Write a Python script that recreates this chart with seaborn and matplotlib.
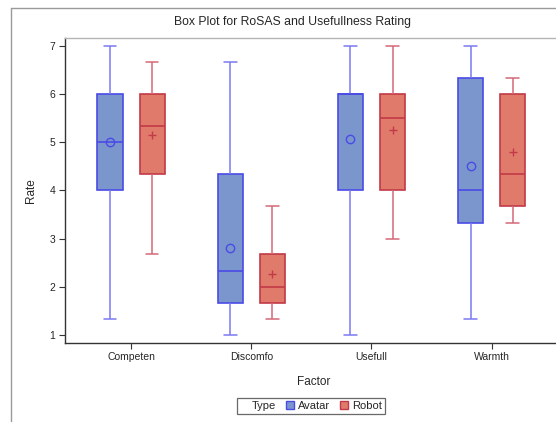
import numpy as np
import pandas as pd
import seaborn as sns
import matplotlib
matplotlib.use("Agg")
import matplotlib.pyplot as plt
from matplotlib.lines import Line2D
from matplotlib.patches import Patch

# Five-number summaries and means per factor and type
factors = ["Competen", "Discomfo", "Usefull", "Warmth"]
types = ["Avatar", "Robot"]

avatar_min = [1.33, 1.00, 1.00, 1.33]
avatar_q1 = [4.00, 1.67, 4.00, 3.33]
avatar_med = [5.00, 2.33, 6.00, 4.00]
avatar_q3 = [6.00, 4.33, 6.00, 6.33]
avatar_max = [7.00, 6.67, 7.00, 7.00]
avatar_mean = [5.00, 2.81, 5.07, 4.51]

robot_min = [2.67, 1.33, 3.00, 3.33]
robot_q1 = [4.33, 1.67, 4.00, 3.67]
robot_med = [5.33, 2.00, 5.50, 4.33]
robot_q3 = [6.00, 2.67, 6.00, 6.00]
robot_max = [6.67, 3.67, 7.00, 6.33]
robot_mean = [5.15, 2.27, 5.25, 4.79]

yticks = [1, 2, 3, 4, 5, 6, 7]

sns.set_style("white")
plt.rcParams["font.family"] = ["Liberation Sans", "DejaVu Sans"]

rows = []
for t, stats in [("Avatar", (avatar_min, avatar_q1, avatar_med, avatar_q3, avatar_max)),
                 ("Robot", (robot_min, robot_q1, robot_med, robot_q3, robot_max))]:
    for i, f in enumerate(factors):
        for s in stats:
            rows.append({"Factor": f, "Type": t, "Rate": s[i]})
df = pd.DataFrame(rows)

means = pd.DataFrame({
    "Factor": factors * 2,
    "Type": ["Avatar"] * 4 + ["Robot"] * 4,
    "Rate": avatar_mean + robot_mean,
})

fill = {"Avatar": "#7b96cd", "Robot": "#e07b6b"}
edge = {"Avatar": "#4a4ae6", "Robot": "#c23a48"}
whisk = {"Avatar": "#7a7af2", "Robot": "#d46878"}

W, H = 556, 422
fig = plt.figure(figsize=(W / 100, H / 100), dpi=100)
ax = fig.add_axes([65 / W, 1 - 342.7 / H, (W - 65) / W + 0.01, (342.7 - 38) / H])

sns.boxplot(
    data=df, x="Factor", y="Rate", hue="Type", order=factors, hue_order=types,
    palette=fill, whis=(0, 100), width=0.7, gap=0.4, linewidth=1.2,
    showfliers=False, legend=False, saturation=1, ax=ax,
)

# Colour each box's outline, whiskers, caps and median by its side of the category
box_w = 0.7 / 2 * 0.6


def side(xs):
    x = float(np.mean(xs))
    return "Avatar" if x - round(x) < 0 else "Robot"


for p in ax.patches:
    t = side(p.get_extents().transformed(ax.transData.inverted()).intervalx)
    p.set_edgecolor(edge[t])
    p.set_linewidth(1.2)

for ln in list(ax.lines):
    xs = np.asarray(ln.get_xdata(), dtype=float)
    if len(xs) < 2:
        continue
    t = side(xs)
    if np.allclose(xs[0], xs[-1]):
        ln.set_color(whisk[t]); ln.set_linewidth(1.1)
    elif abs(xs[-1] - xs[0]) > 0.9 * box_w:
        ln.set_color(edge[t]); ln.set_linewidth(1.2)
    else:
        ln.set_color(whisk[t]); ln.set_linewidth(1.1)

sns.pointplot(
    data=means, x="Factor", y="Rate", hue="Type", order=factors, hue_order=types,
    palette=edge, markers=["o", "+"], linestyle="none", dodge=0.35, errorbar=None,
    markersize=6, markerfacecolor="none", markeredgewidth=1.0, legend=False, ax=ax,
)

ax.set_xlim(-0.55, (W - 131) / 120 + 0.04)
ax.set_ylim(0.84, 7.16)
ax.set_yticks(yticks)
ax.set_yticklabels([str(v) for v in yticks])

ax.spines["right"].set_visible(False)
ax.spines["top"].set_color("#b4b4b4")
ax.spines["left"].set_color("#333333")
ax.spines["bottom"].set_color("#333333")
for s in ["left", "bottom", "top"]:
    ax.spines[s].set_linewidth(1.0)
ax.tick_params(axis="both", which="both", direction="out", length=4, width=0.8,
               color="#333333", labelsize=7.5, pad=3, left=True, bottom=True)
ax.set_xlabel("Factor", fontsize=8.5, labelpad=10)
ax.set_ylabel("Rate", fontsize=8.5, labelpad=9)

fig.text(292 / W, 1 - 22 / H, "Box Plot for RoSAS and Usefullness Rating",
         ha="center", va="center", fontsize=8.8)

# Outer graph frame
fig.add_artist(Line2D([11 / W, 11 / W], [0, 1 - 8 / H], color="#9a9a9a", lw=1.0))
fig.add_artist(Line2D([11 / W, 1], [1 - 8 / H, 1 - 8 / H], color="#9a9a9a", lw=1.0))

handles = [
    Patch(facecolor="none", edgecolor="none", label="Type"),
    Patch(facecolor=fill["Avatar"], edgecolor=edge["Avatar"], label="Avatar"),
    Patch(facecolor=fill["Robot"], edgecolor=edge["Robot"], label="Robot"),
]
leg = fig.legend(handles=handles, loc="center", bbox_to_anchor=(311 / W, 1 - 406 / H),
                 ncol=3, fontsize=8, frameon=True, fancybox=False, handlelength=0.7,
                 handleheight=0.7, handletextpad=0.4, columnspacing=0.9,
                 borderpad=0.25, borderaxespad=0)
leg.get_frame().set_edgecolor("#444444")
leg.get_frame().set_linewidth(0.9)
leg.legend_handles[0].set_visible(False)

fig.savefig("out.png", dpi=100, facecolor="white")
